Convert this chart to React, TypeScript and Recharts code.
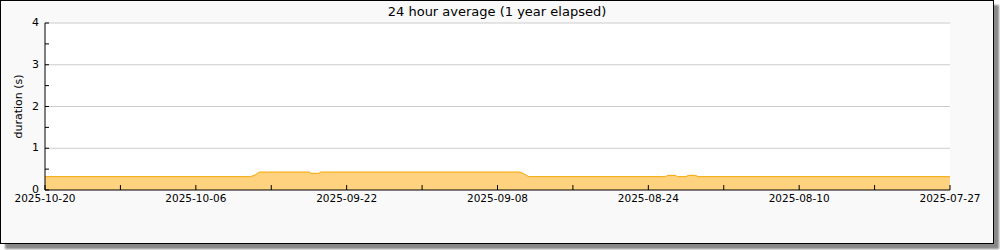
import React from "react";
import {
  AreaChart,
  Area,
  XAxis,
  YAxis,
  CartesianGrid,
} from "recharts";

// days elapsed counted from 2025-10-20 (left edge) toward 2025-07-27 (right edge)
const dayPoints = [0, 19.1, 19.5, 19.9, 24.5, 24.7, 25.4, 25.6, 44.1, 44.5, 44.9, 57.6, 57.8, 58.5, 58.7, 59.5, 59.7, 60.4, 60.6, 84];
const durations = [0.32, 0.32, 0.36, 0.43, 0.43, 0.4, 0.4, 0.43, 0.43, 0.38, 0.32, 0.32, 0.35, 0.35, 0.32, 0.32, 0.35, 0.35, 0.32, 0.32];

const xTicks = [0, 7, 14, 21, 28, 35, 42, 49, 56, 63, 70, 77, 84];
const xTickLabels: Record<number, string> = {
  0: "2025-10-20",
  14: "2025-10-06",
  28: "2025-09-22",
  42: "2025-09-08",
  56: "2025-08-24",
  70: "2025-08-10",
  84: "2025-07-27",
};
const yTicks = [0, 0.5, 1, 1.5, 2, 2.5, 3, 3.5, 4];

const data = dayPoints.map((d, i) => ({ day: d, value: durations[i] }));

const font = "'DejaVu Sans', Verdana, sans-serif";

const XTick = (props: any) => {
  const { x, y, payload } = props;
  const label = xTickLabels[payload.value];
  return (
    <g>
      <line x1={x} y1={y} x2={x} y2={y - 5} stroke="#000" />
      {label && (
        <text x={x} y={y + 12} textAnchor="middle" fontSize={10.5} fontFamily={font} fill="#000">
          {label}
        </text>
      )}
    </g>
  );
};

const YTick = (props: any) => {
  const { x, y, payload } = props;
  const isMajor = Number.isInteger(payload.value);
  return (
    <g>
      <line x1={x} y1={y} x2={x + 4} y2={y} stroke="#000" />
      {isMajor && (
        <text x={x - 6} y={y + 3} textAnchor="end" fontSize={11} fontFamily={font} fill="#000">
          {payload.value}
        </text>
      )}
    </g>
  );
};

export default function App() {
  return (
    <div
      style={{
        position: "absolute",
        left: 0,
        top: 0,
        width: 992,
        height: 242,
        border: "1px solid #000",
        background: "#f9f9f9",
        boxShadow: "5px 5px 2px #888",
        fontFamily: font,
      }}
    >
      <div
        style={{
          position: "absolute",
          top: 3,
          width: "100%",
          textAlign: "center",
          fontSize: 13,
          color: "#000",
        }}
      >
        24 hour average (1 year elapsed)
      </div>
      <AreaChart
        width={992}
        height={242}
        data={data}
        margin={{ top: 22, right: 43, bottom: 23, left: 0 }}
      >
        <CartesianGrid
          vertical={false}
          horizontalValues={[1, 2, 3, 4]}
          stroke="#ccc"
          fill="#fff"
        />
        <XAxis
          dataKey="day"
          type="number"
          domain={[0, 84]}
          ticks={xTicks}
          tick={<XTick />}
          tickLine={false}
          tickSize={0}
          tickMargin={0}
          height={30}
          stroke="#000"
          interval={0}
        />
        <YAxis
          type="number"
          domain={[0, 4]}
          ticks={yTicks}
          tick={<YTick />}
          tickLine={false}
          tickSize={0}
          tickMargin={0}
          width={44}
          stroke="#000"
          interval={0}
          label={{
            value: "duration (s)",
            angle: -90,
            position: "insideLeft",
            offset: 17,
            style: { fontSize: 11, fontFamily: font, fill: "#000", textAnchor: "middle" },
          }}
        />
        <Area
          type="linear"
          dataKey="value"
          stroke="#f7a600"
          strokeWidth={1}
          fill="#fed27f"
          fillOpacity={1}
          isAnimationActive={false}
          dot={false}
          activeDot={false}
        />
      </AreaChart>
    </div>
  );
}
